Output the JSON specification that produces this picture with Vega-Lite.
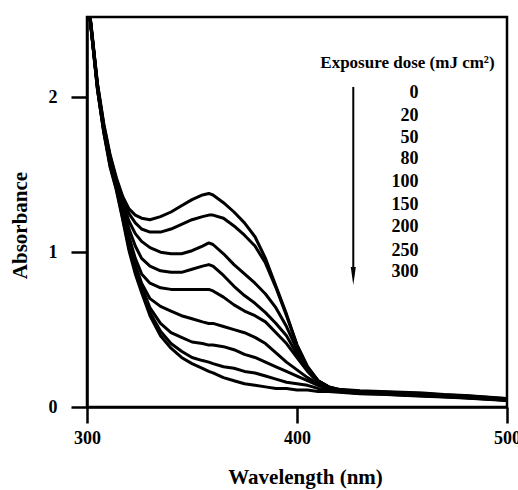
{
"$schema": "https://vega.github.io/schema/vega-lite/v6.json",
"width": 420, "height": 390,
"autosize": "none",
"padding": {"left": 87, "top": 17, "right": 11, "bottom": 83},
"background": "white",
"config": {
 "view": {"stroke": "black", "strokeWidth": 2.5},
 "font": "Liberation Serif",
 "axis": {"domainColor": "black", "domainWidth": 2.5, "tickColor": "black", "tickWidth": 2.5, "tickSize": 16, "labelFont": "Liberation Serif", "labelFontWeight": "bold", "labelFontSize": 18, "labelColor": "black", "titleFont": "Liberation Serif", "titleFontWeight": "bold", "titleFontSize": 21, "titleColor": "black", "grid": false}
},
"datasets": {
"spectra": [
{"d":0,"w":300,"a":2.70},{"d":0,"w":302,"a":2.46},{"d":0,"w":305,"a":2.09},{"d":0,"w":308,"a":1.83},{"d":0,"w":311,"a":1.63},{"d":0,"w":314,"a":1.48},{"d":0,"w":317,"a":1.36},{"d":0,"w":320,"a":1.28},{"d":0,"w":323,"a":1.24},{"d":0,"w":326,"a":1.22},{"d":0,"w":330,"a":1.21},{"d":0,"w":335,"a":1.23},{"d":0,"w":340,"a":1.26},{"d":0,"w":345,"a":1.30},{"d":0,"w":350,"a":1.34},{"d":0,"w":355,"a":1.37},{"d":0,"w":358,"a":1.38},{"d":0,"w":360,"a":1.37},{"d":0,"w":365,"a":1.32},{"d":0,"w":370,"a":1.26},{"d":0,"w":375,"a":1.19},{"d":0,"w":380,"a":1.10},{"d":0,"w":385,"a":0.96},{"d":0,"w":390,"a":0.78},{"d":0,"w":395,"a":0.60},{"d":0,"w":400,"a":0.40},{"d":0,"w":405,"a":0.26},{"d":0,"w":410,"a":0.17},{"d":0,"w":415,"a":0.13},{"d":0,"w":420,"a":0.115},{"d":0,"w":430,"a":0.105},{"d":0,"w":440,"a":0.10},{"d":0,"w":450,"a":0.095},{"d":0,"w":460,"a":0.09},{"d":0,"w":470,"a":0.08},{"d":0,"w":480,"a":0.075},{"d":0,"w":490,"a":0.065},{"d":0,"w":500,"a":0.055},
{"d":20,"w":300,"a":2.70},{"d":20,"w":302,"a":2.46},{"d":20,"w":305,"a":2.08},{"d":20,"w":308,"a":1.82},{"d":20,"w":311,"a":1.62},{"d":20,"w":314,"a":1.47},{"d":20,"w":317,"a":1.34},{"d":20,"w":320,"a":1.25},{"d":20,"w":323,"a":1.19},{"d":20,"w":326,"a":1.15},{"d":20,"w":330,"a":1.13},{"d":20,"w":335,"a":1.13},{"d":20,"w":340,"a":1.15},{"d":20,"w":345,"a":1.18},{"d":20,"w":350,"a":1.21},{"d":20,"w":355,"a":1.23},{"d":20,"w":358,"a":1.24},{"d":20,"w":360,"a":1.24},{"d":20,"w":365,"a":1.22},{"d":20,"w":370,"a":1.17},{"d":20,"w":375,"a":1.11},{"d":20,"w":380,"a":1.04},{"d":20,"w":385,"a":0.93},{"d":20,"w":390,"a":0.77},{"d":20,"w":395,"a":0.59},{"d":20,"w":400,"a":0.40},{"d":20,"w":405,"a":0.26},{"d":20,"w":410,"a":0.17},{"d":20,"w":415,"a":0.13},{"d":20,"w":420,"a":0.11},{"d":20,"w":430,"a":0.10},{"d":20,"w":440,"a":0.097},{"d":20,"w":450,"a":0.092},{"d":20,"w":460,"a":0.087},{"d":20,"w":470,"a":0.078},{"d":20,"w":480,"a":0.072},{"d":20,"w":490,"a":0.063},{"d":20,"w":500,"a":0.053},
{"d":50,"w":300,"a":2.70},{"d":50,"w":302,"a":2.45},{"d":50,"w":305,"a":2.08},{"d":50,"w":308,"a":1.81},{"d":50,"w":311,"a":1.61},{"d":50,"w":314,"a":1.46},{"d":50,"w":317,"a":1.32},{"d":50,"w":320,"a":1.20},{"d":50,"w":323,"a":1.12},{"d":50,"w":326,"a":1.07},{"d":50,"w":330,"a":1.03},{"d":50,"w":335,"a":1.00},{"d":50,"w":340,"a":0.99},{"d":50,"w":345,"a":0.99},{"d":50,"w":350,"a":1.01},{"d":50,"w":355,"a":1.04},{"d":50,"w":358,"a":1.06},{"d":50,"w":360,"a":1.05},{"d":50,"w":365,"a":0.99},{"d":50,"w":370,"a":0.92},{"d":50,"w":375,"a":0.86},{"d":50,"w":380,"a":0.80},{"d":50,"w":385,"a":0.73},{"d":50,"w":390,"a":0.64},{"d":50,"w":395,"a":0.52},{"d":50,"w":400,"a":0.37},{"d":50,"w":405,"a":0.25},{"d":50,"w":410,"a":0.17},{"d":50,"w":415,"a":0.13},{"d":50,"w":420,"a":0.11},{"d":50,"w":430,"a":0.10},{"d":50,"w":440,"a":0.094},{"d":50,"w":450,"a":0.089},{"d":50,"w":460,"a":0.084},{"d":50,"w":470,"a":0.076},{"d":50,"w":480,"a":0.07},{"d":50,"w":490,"a":0.06},{"d":50,"w":500,"a":0.05},
{"d":80,"w":300,"a":2.70},{"d":80,"w":302,"a":2.45},{"d":80,"w":305,"a":2.07},{"d":80,"w":308,"a":1.80},{"d":80,"w":311,"a":1.60},{"d":80,"w":314,"a":1.45},{"d":80,"w":317,"a":1.30},{"d":80,"w":320,"a":1.15},{"d":80,"w":323,"a":1.04},{"d":80,"w":326,"a":0.96},{"d":80,"w":330,"a":0.91},{"d":80,"w":335,"a":0.88},{"d":80,"w":340,"a":0.87},{"d":80,"w":345,"a":0.87},{"d":80,"w":350,"a":0.89},{"d":80,"w":355,"a":0.91},{"d":80,"w":358,"a":0.92},{"d":80,"w":360,"a":0.91},{"d":80,"w":365,"a":0.85},{"d":80,"w":370,"a":0.78},{"d":80,"w":375,"a":0.72},{"d":80,"w":380,"a":0.67},{"d":80,"w":385,"a":0.61},{"d":80,"w":390,"a":0.54},{"d":80,"w":395,"a":0.46},{"d":80,"w":400,"a":0.34},{"d":80,"w":405,"a":0.24},{"d":80,"w":410,"a":0.17},{"d":80,"w":415,"a":0.13},{"d":80,"w":420,"a":0.11},{"d":80,"w":430,"a":0.098},{"d":80,"w":440,"a":0.092},{"d":80,"w":450,"a":0.086},{"d":80,"w":460,"a":0.08},{"d":80,"w":470,"a":0.074},{"d":80,"w":480,"a":0.067},{"d":80,"w":490,"a":0.058},{"d":80,"w":500,"a":0.048},
{"d":100,"w":300,"a":2.70},{"d":100,"w":302,"a":2.45},{"d":100,"w":305,"a":2.07},{"d":100,"w":308,"a":1.80},{"d":100,"w":311,"a":1.59},{"d":100,"w":314,"a":1.44},{"d":100,"w":317,"a":1.28},{"d":100,"w":320,"a":1.10},{"d":100,"w":323,"a":0.96},{"d":100,"w":326,"a":0.86},{"d":100,"w":330,"a":0.80},{"d":100,"w":335,"a":0.77},{"d":100,"w":340,"a":0.76},{"d":100,"w":345,"a":0.76},{"d":100,"w":350,"a":0.76},{"d":100,"w":355,"a":0.76},{"d":100,"w":358,"a":0.76},{"d":100,"w":360,"a":0.75},{"d":100,"w":365,"a":0.71},{"d":100,"w":370,"a":0.66},{"d":100,"w":375,"a":0.62},{"d":100,"w":380,"a":0.59},{"d":100,"w":385,"a":0.55},{"d":100,"w":390,"a":0.48},{"d":100,"w":395,"a":0.41},{"d":100,"w":400,"a":0.32},{"d":100,"w":405,"a":0.23},{"d":100,"w":410,"a":0.16},{"d":100,"w":415,"a":0.12},{"d":100,"w":420,"a":0.105},{"d":100,"w":430,"a":0.095},{"d":100,"w":440,"a":0.09},{"d":100,"w":450,"a":0.084},{"d":100,"w":460,"a":0.078},{"d":100,"w":470,"a":0.072},{"d":100,"w":480,"a":0.065},{"d":100,"w":490,"a":0.056},{"d":100,"w":500,"a":0.046},
{"d":150,"w":300,"a":2.70},{"d":150,"w":302,"a":2.44},{"d":150,"w":305,"a":2.06},{"d":150,"w":308,"a":1.79},{"d":150,"w":311,"a":1.58},{"d":150,"w":314,"a":1.43},{"d":150,"w":317,"a":1.26},{"d":150,"w":320,"a":1.07},{"d":150,"w":323,"a":0.92},{"d":150,"w":326,"a":0.80},{"d":150,"w":330,"a":0.70},{"d":150,"w":335,"a":0.65},{"d":150,"w":340,"a":0.62},{"d":150,"w":345,"a":0.59},{"d":150,"w":350,"a":0.57},{"d":150,"w":355,"a":0.55},{"d":150,"w":358,"a":0.54},{"d":150,"w":360,"a":0.54},{"d":150,"w":365,"a":0.52},{"d":150,"w":370,"a":0.50},{"d":150,"w":375,"a":0.48},{"d":150,"w":380,"a":0.45},{"d":150,"w":385,"a":0.41},{"d":150,"w":390,"a":0.35},{"d":150,"w":395,"a":0.29},{"d":150,"w":400,"a":0.24},{"d":150,"w":405,"a":0.19},{"d":150,"w":410,"a":0.15},{"d":150,"w":415,"a":0.12},{"d":150,"w":420,"a":0.105},{"d":150,"w":430,"a":0.093},{"d":150,"w":440,"a":0.088},{"d":150,"w":450,"a":0.082},{"d":150,"w":460,"a":0.076},{"d":150,"w":470,"a":0.07},{"d":150,"w":480,"a":0.063},{"d":150,"w":490,"a":0.055},{"d":150,"w":500,"a":0.045},
{"d":200,"w":300,"a":2.70},{"d":200,"w":302,"a":2.44},{"d":200,"w":305,"a":2.06},{"d":200,"w":308,"a":1.78},{"d":200,"w":311,"a":1.57},{"d":200,"w":314,"a":1.42},{"d":200,"w":317,"a":1.24},{"d":200,"w":320,"a":1.05},{"d":200,"w":323,"a":0.90},{"d":200,"w":326,"a":0.78},{"d":200,"w":330,"a":0.64},{"d":200,"w":335,"a":0.54},{"d":200,"w":340,"a":0.48},{"d":200,"w":345,"a":0.45},{"d":200,"w":350,"a":0.42},{"d":200,"w":355,"a":0.41},{"d":200,"w":358,"a":0.40},{"d":200,"w":360,"a":0.40},{"d":200,"w":365,"a":0.39},{"d":200,"w":370,"a":0.37},{"d":200,"w":375,"a":0.34},{"d":200,"w":380,"a":0.32},{"d":200,"w":385,"a":0.29},{"d":200,"w":390,"a":0.26},{"d":200,"w":395,"a":0.23},{"d":200,"w":400,"a":0.20},{"d":200,"w":405,"a":0.17},{"d":200,"w":410,"a":0.14},{"d":200,"w":415,"a":0.12},{"d":200,"w":420,"a":0.10},{"d":200,"w":430,"a":0.09},{"d":200,"w":440,"a":0.086},{"d":200,"w":450,"a":0.08},{"d":200,"w":460,"a":0.074},{"d":200,"w":470,"a":0.068},{"d":200,"w":480,"a":0.062},{"d":200,"w":490,"a":0.053},{"d":200,"w":500,"a":0.044},
{"d":250,"w":300,"a":2.70},{"d":250,"w":302,"a":2.44},{"d":250,"w":305,"a":2.05},{"d":250,"w":308,"a":1.78},{"d":250,"w":311,"a":1.56},{"d":250,"w":314,"a":1.41},{"d":250,"w":317,"a":1.22},{"d":250,"w":320,"a":1.03},{"d":250,"w":323,"a":0.88},{"d":250,"w":326,"a":0.76},{"d":250,"w":330,"a":0.61},{"d":250,"w":335,"a":0.49},{"d":250,"w":340,"a":0.41},{"d":250,"w":345,"a":0.36},{"d":250,"w":350,"a":0.32},{"d":250,"w":355,"a":0.30},{"d":250,"w":358,"a":0.29},{"d":250,"w":360,"a":0.28},{"d":250,"w":365,"a":0.26},{"d":250,"w":370,"a":0.25},{"d":250,"w":375,"a":0.23},{"d":250,"w":380,"a":0.22},{"d":250,"w":385,"a":0.20},{"d":250,"w":390,"a":0.18},{"d":250,"w":395,"a":0.16},{"d":250,"w":400,"a":0.15},{"d":250,"w":405,"a":0.14},{"d":250,"w":410,"a":0.12},{"d":250,"w":415,"a":0.11},{"d":250,"w":420,"a":0.10},{"d":250,"w":430,"a":0.088},{"d":250,"w":440,"a":0.084},{"d":250,"w":450,"a":0.078},{"d":250,"w":460,"a":0.072},{"d":250,"w":470,"a":0.066},{"d":250,"w":480,"a":0.06},{"d":250,"w":490,"a":0.052},{"d":250,"w":500,"a":0.043},
{"d":300,"w":300,"a":2.70},{"d":300,"w":302,"a":2.44},{"d":300,"w":305,"a":2.05},{"d":300,"w":308,"a":1.77},{"d":300,"w":311,"a":1.55},{"d":300,"w":314,"a":1.40},{"d":300,"w":317,"a":1.21},{"d":300,"w":320,"a":1.01},{"d":300,"w":323,"a":0.86},{"d":300,"w":326,"a":0.74},{"d":300,"w":330,"a":0.59},{"d":300,"w":335,"a":0.46},{"d":300,"w":340,"a":0.38},{"d":300,"w":345,"a":0.32},{"d":300,"w":350,"a":0.28},{"d":300,"w":355,"a":0.25},{"d":300,"w":358,"a":0.23},{"d":300,"w":360,"a":0.22},{"d":300,"w":365,"a":0.19},{"d":300,"w":370,"a":0.17},{"d":300,"w":375,"a":0.15},{"d":300,"w":380,"a":0.14},{"d":300,"w":385,"a":0.13},{"d":300,"w":390,"a":0.12},{"d":300,"w":395,"a":0.12},{"d":300,"w":400,"a":0.11},{"d":300,"w":405,"a":0.11},{"d":300,"w":410,"a":0.10},{"d":300,"w":415,"a":0.10},{"d":300,"w":420,"a":0.095},{"d":300,"w":430,"a":0.086},{"d":300,"w":440,"a":0.082},{"d":300,"w":450,"a":0.076},{"d":300,"w":460,"a":0.07},{"d":300,"w":470,"a":0.064},{"d":300,"w":480,"a":0.058},{"d":300,"w":490,"a":0.05},{"d":300,"w":500,"a":0.042}
],
"doses": [
{"w":457.8,"a":2.029,"t":"0"},{"w":457.8,"a":1.880,"t":"20"},{"w":457.8,"a":1.738,"t":"50"},{"w":457.8,"a":1.602,"t":"80"},{"w":457.8,"a":1.454,"t":"100"},{"w":457.8,"a":1.305,"t":"150"},{"w":457.8,"a":1.163,"t":"200"},{"w":457.8,"a":1.008,"t":"250"},{"w":457.8,"a":0.872,"t":"300"}
],
"heading": [{"w":452.6,"a":2.223,"t":"Exposure dose (mJ cm²)"}],
"arrow": [{"w":426.8,"a":2.068,"a2":0.85}],
"arrowhead": [{"w":426.8,"a":0.846}]
},
"layer": [
{"data": {"name": "spectra"},
 "mark": {"type": "line", "color": "black", "strokeWidth": 3, "clip": true, "strokeJoin": "round"},
 "encoding": {
  "x": {"field": "w", "type": "quantitative", "scale": {"domain": [300, 500], "nice": false, "zero": false}, "axis": {"values": [300, 400, 500], "format": "d", "title": "Wavelength (nm)", "labelPadding": 6, "titlePadding": 19, "titleX": 218, "labelFlush": false}},
  "y": {"field": "a", "type": "quantitative", "scale": {"domain": [0, 2.52], "nice": false}, "axis": {"values": [0, 1, 2], "format": "d", "title": "Absorbance", "labelPadding": 14, "titlePadding": 18, "titleY": 208}},
  "detail": {"field": "d"}
 }},
{"data": {"name": "doses"},
 "mark": {"type": "text", "align": "right", "baseline": "middle", "font": "Liberation Serif", "fontWeight": "bold", "fontSize": 18, "color": "black"},
 "encoding": {"x": {"field": "w", "type": "quantitative"}, "y": {"field": "a", "type": "quantitative"}, "text": {"field": "t"}}},
{"data": {"name": "heading"},
 "mark": {"type": "text", "align": "center", "baseline": "middle", "font": "Liberation Serif", "fontWeight": "bold", "fontSize": 17, "color": "black"},
 "encoding": {"x": {"field": "w", "type": "quantitative"}, "y": {"field": "a", "type": "quantitative"}, "text": {"field": "t"}}},
{"data": {"name": "arrow"},
 "mark": {"type": "rule", "color": "black", "strokeWidth": 2},
 "encoding": {"x": {"field": "w", "type": "quantitative"}, "y": {"field": "a", "type": "quantitative"}, "y2": {"field": "a2"}}},
{"data": {"name": "arrowhead"},
 "mark": {"type": "point", "shape": "M-0.28,-1L0.28,-1L0,1Z", "filled": true, "color": "black", "opacity": 1, "size": 324},
 "encoding": {"x": {"field": "w", "type": "quantitative"}, "y": {"field": "a", "type": "quantitative"}}}
]
}
